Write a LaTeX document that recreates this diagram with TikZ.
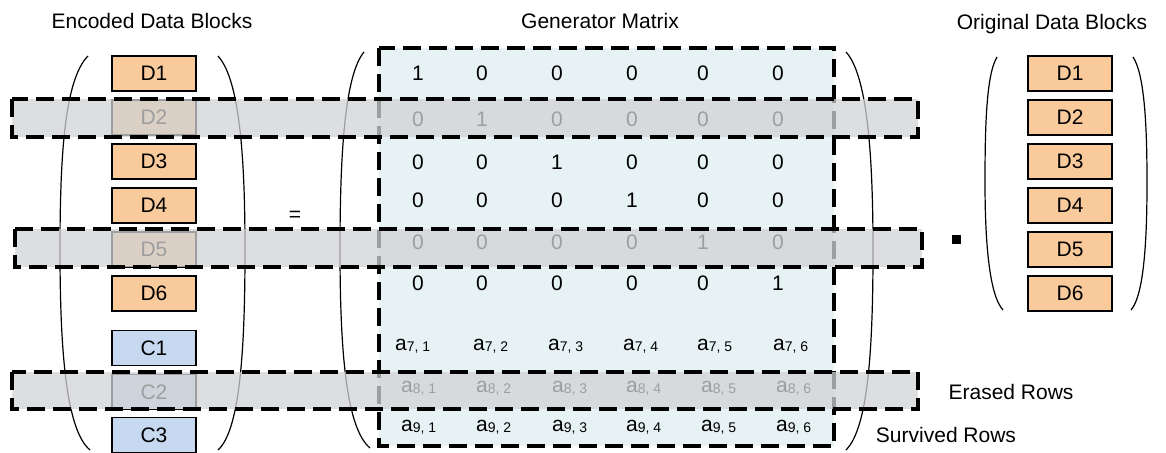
\documentclass[tikz,border=0pt]{standalone}
\usepackage{fontspec}
\setmainfont{Liberation Sans}
\definecolor{dfill}{HTML}{F9CB9C}
\definecolor{cfill}{HTML}{C6D9F0}
\definecolor{mfill}{HTML}{E6F2F4}
\definecolor{bandgray}{HTML}{D2D3D5}
\newcommand\asub[2]{a{\fontsize{14}{14}\selectfont\raisebox{-1pt}{#1, #2}}}
\begin{document}
\begin{tikzpicture}[x=1pt,y=-1pt,
  lbl/.style={font=\fontsize{21}{24}\selectfont, inner sep=0},
  dblock/.style={draw=black, line width=1.8pt, fill=dfill, minimum width=84pt, minimum height=35pt, inner sep=0, font=\fontsize{21}{24}\selectfont},
  cblock/.style={dblock, fill=cfill},
  paren/.style={line width=1.2pt},
  mdash/.style={dash pattern=on 18pt off 8pt, line width=3.2pt},
  band/.style={fill=bandgray, fill opacity=0.75, draw=black, mdash},
  ent/.style={lbl, anchor=center},
  aent/.style={lbl, anchor=base west},
]
\useasboundingbox (0,0) rectangle (1166,452);
% generator matrix area
\draw[mdash, fill=mfill] (379,48) rectangle (834,446);
% parentheses
\draw[paren] (88,56) .. controls (64,80) and (60,160) .. (60,250) .. controls (60,350) and (66,430) .. (90,450);
\draw[paren] (218,56) .. controls (240,80) and (245,160) .. (245,250) .. controls (245,350) and (240,430) .. (218,450);
\draw[paren] (364,52) .. controls (344,76) and (340,160) .. (340,250) .. controls (340,350) and (346,428) .. (370,448);
\draw[paren] (846,52) .. controls (868,76) and (873,160) .. (873,250) .. controls (873,350) and (868,428) .. (846,450);
\draw[paren] (997,57) .. controls (986,75) and (985,130) .. (985,183) .. controls (985,240) and (989,295) .. (1003,310);
\draw[paren] (1133,57) .. controls (1145,75) and (1147,130) .. (1147,183) .. controls (1147,240) and (1144,295) .. (1131,310);
% titles
\node[lbl] (t1) at (152,21) {Encoded Data Blocks};
\node[lbl] (t2) at (600,21) {Generator Matrix};
\node[lbl] (t3) at (1052,24) {Original Data Blocks};
% blocks
\foreach \n/\y in {1/73.5,2/117.5,3/161.5,4/205.5,5/249.5,6/293.5} {
  \node[dblock] (e\n) at (154,\y) {D\n};
  \node[dblock] (o\n) at (1070,\y) {D\n};
}
\foreach \n/\y in {1/348,2/392,3/435} {
  \node[cblock] (c\n) at (154,\y) {C\n};
}
% matrix entries
\foreach \r/\y in {1/73,2/119,3/162,4/200,5/242,6/283} {
  \foreach \c/\x in {1/418,2/482,3/557,4/632,5/703,6/778} {
    \node[ent] (m\r\c) at (\x,\y) {\ifnum\r=\c\relax 1\else 0\fi};
  }
}
\foreach \c/\x in {1/395,2/473,3/548,4/623,5/697,6/773} {
  \node[aent] (m7\c) at (\x,350) {\asub{7}{\c}};
}
\foreach \c/\x in {1/401,2/476,3/552,4/626,5/701,6/776} {
  \node[aent] (m8\c) at (\x,392) {\asub{8}{\c}};
  \node[aent] (m9\c) at (\x,431) {\asub{9}{\c}};
}
% operators
\node[lbl] (eq) at (295,216) {=};
\node[fill=black, minimum size=9pt, inner sep=0] (dot) at (956,239) {};
% erased bands
\path[band] (12,99) rectangle (918,137);
\path[band] (15,229) rectangle (922,267);
\path[band] (12,372) rectangle (918,409);
% legend
\node[lbl] (er) at (1011,392) {Erased Rows};
\node[lbl] (sr) at (946,435) {Survived Rows};
\end{tikzpicture}
\end{document}
